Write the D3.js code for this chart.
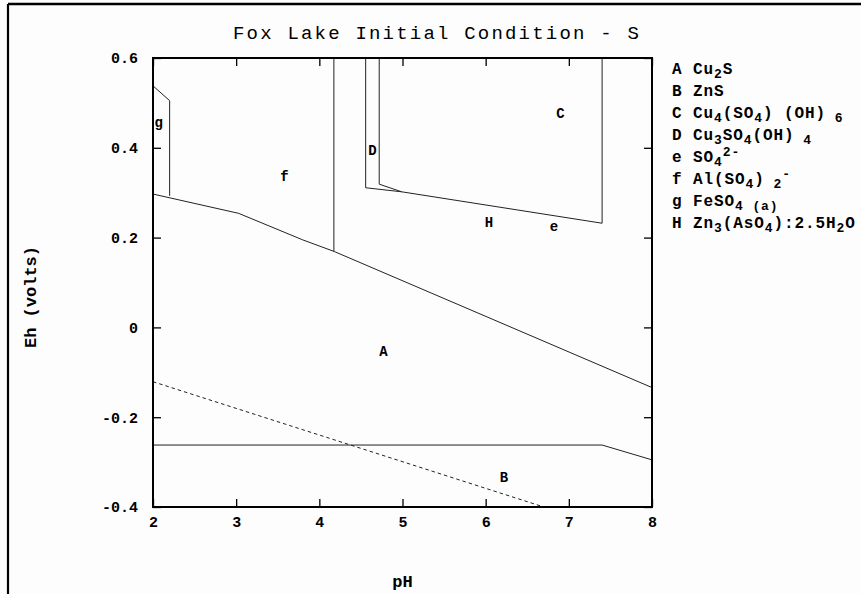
<!DOCTYPE html>
<html>
<head>
<meta charset="utf-8">
<script src="https://cdn.jsdelivr.net/npm/d3@7"></script>
<style>
  html, body { margin: 0; padding: 0; background: #fdfdfd; }
  svg { display: block; }
  text { font-family: "Liberation Mono", "Courier New", monospace; fill: #000; }
</style>
</head>
<body>
<svg id="chart" width="861" height="594"></svg>
<script>
// Axis domains and ticks
const phTicks = [2, 3, 4, 5, 6, 7, 8];
const ehTicks = [-0.4, -0.2, 0, 0.2, 0.4, 0.6];
const ehTickLabels = ["-0.4", "-0.2", "0", "0.2", "0.4", "0.6"];

// Stability-field boundaries, [pH, Eh] vertices
const gBoundary = [[2, 0.538], [2.2, 0.505], [2.2, 0.293]];
const upperBoundary = [[2, 0.297], [3.03, 0.254], [3.8, 0.195], [4.18, 0.169], [8, -0.134]];
const fVertical = [[4.175, 0.6], [4.175, 0.169]];
const dOuter = [[4.557, 0.6], [4.557, 0.311], [4.99, 0.302]];
const dInner = [[4.72, 0.6], [4.72, 0.319], [4.99, 0.302]];
const cBoundary = [[4.99, 0.302], [7.40, 0.232], [7.40, 0.6]];
const znsBoundary = [[2, -0.262], [7.40, -0.262], [8, -0.295]];
const waterLimit = [[2, -0.121], [6.70, -0.4]];

// Field labels
const fieldNames = ["A", "B", "C", "D", "e", "f", "g", "H"];
const fieldPH = [4.77, 6.22, 6.90, 4.64, 6.82, 3.58, 2.07, 6.04];
const fieldEh = [-0.055, -0.336, 0.475, 0.393, 0.223, 0.336, 0.455, 0.232];

// Legend: key letters and formula pieces ([text, "n" | "sub" | "sup"])
const legendKeys = ["A", "B", "C", "D", "e", "f", "g", "H"];
const legendFormulas = [
  [["Cu", "n"], ["2", "sub"], ["S", "n"]],
  [["ZnS", "n"]],
  [["Cu", "n"], ["4", "sub"], ["(SO", "n"], ["4", "sub"], [") (OH)", "n"], [" 6", "sub"]],
  [["Cu", "n"], ["3", "sub"], ["SO", "n"], ["4", "sub"], ["(OH)", "n"], [" 4", "sub"]],
  [["SO", "n"], ["4", "sub"], ["2-", "sup"]],
  [["Al(SO", "n"], ["4", "sub"], [")", "n"], [" 2", "sub"], ["-", "sup"]],
  [["FeSO", "n"], ["4 (a)", "sub"]],
  [["Zn", "n"], ["3", "sub"], ["(AsO", "n"], ["4", "sub"], ["):2.5H", "n"], ["2", "sub"], ["O", "n"]]
];

const svg = d3.select("#chart");

// Outer frame lines
svg.append("line").attr("x1", 8).attr("y1", 4).attr("x2", 861).attr("y2", 4)
  .attr("stroke", "#000").attr("stroke-width", 2.5);
svg.append("line").attr("x1", 8).attr("y1", 4).attr("x2", 8).attr("y2", 594)
  .attr("stroke", "#000").attr("stroke-width", 2.2);

const plot = { left: 153, right: 652, top: 58, bottom: 507 };
const x = d3.scaleLinear().domain([2, 8]).range([plot.left, plot.right]);
const y = d3.scaleLinear().domain([-0.4, 0.6]).range([plot.bottom, plot.top]);

const line = d3.line().x(d => x(d[0])).y(d => y(d[1]));

// Boundaries
const g = svg.append("g").attr("fill", "none").attr("stroke", "#222").attr("stroke-width", 1);
[gBoundary, upperBoundary, fVertical, dOuter, dInner, cBoundary, znsBoundary].forEach(b => {
  g.append("path").attr("d", line(b));
});
g.append("path").attr("d", line(waterLimit)).attr("stroke-dasharray", "3.5,3");

// Axes (ticks drawn inside on all sides)
const tickLen = 8;
const axisStyle = sel => {
  sel.select(".domain").remove();
  sel.selectAll(".tick line").attr("stroke", "#000").attr("stroke-width", 1.3);
};
const labelStyle = s => s.selectAll("text").attr("font-size", 15).attr("font-weight", "bold")
  .attr("font-family", "Liberation Mono, monospace");
svg.append("g").attr("transform", `translate(0,${plot.bottom})`)
  .call(d3.axisBottom(x).tickValues(phTicks).tickSize(-tickLen).tickPadding(9).tickFormat(d3.format("d")))
  .call(axisStyle)
  .call(labelStyle);
svg.append("g").attr("transform", `translate(0,${plot.top})`)
  .call(d3.axisTop(x).tickValues(phTicks).tickSize(-tickLen).tickFormat(""))
  .call(axisStyle);
svg.append("g").attr("transform", `translate(${plot.left},0)`)
  .call(d3.axisLeft(y).tickValues(ehTicks).tickSize(-tickLen).tickPadding(15)
    .tickFormat((d, i) => ehTickLabels[i]))
  .call(axisStyle)
  .call(labelStyle);
svg.append("g").attr("transform", `translate(${plot.right},0)`)
  .call(d3.axisRight(y).tickValues(ehTicks).tickSize(-tickLen).tickFormat(""))
  .call(axisStyle);

// Plot box
svg.append("rect").attr("x", plot.left).attr("y", plot.top)
  .attr("width", plot.right - plot.left).attr("height", plot.bottom - plot.top)
  .attr("fill", "none").attr("stroke", "#000").attr("stroke-width", 2);

// Field labels
svg.append("g").selectAll("text").data(fieldNames).join("text")
  .attr("x", (d, i) => x(fieldPH[i]))
  .attr("y", (d, i) => y(fieldEh[i]))
  .attr("text-anchor", "middle").attr("dominant-baseline", "central")
  .attr("font-size", 14).attr("font-weight", "bold")
  .text(d => d);

// Title and axis titles
svg.append("text").attr("x", 437).attr("y", 39).attr("text-anchor", "middle")
  .attr("font-size", 19).attr("letter-spacing", 2.2)
  .text("Fox Lake Initial Condition - S");
svg.append("text").attr("x", (plot.left + plot.right) / 2).attr("y", 587)
  .attr("text-anchor", "middle").attr("font-size", 17).attr("font-weight", "bold")
  .text("pH");
svg.append("text").attr("transform", "translate(36,297) rotate(-90)")
  .attr("text-anchor", "middle").attr("font-size", 17).attr("font-weight", "bold")
  .text("Eh (volts)");

// Legend
const legend = svg.append("g").attr("font-size", 16).attr("font-weight", "bold");
legendKeys.forEach((k, i) => {
  const yy = 74 + i * 22;
  legend.append("text").attr("x", 672).attr("y", yy).text(k);
  const t = legend.append("text").attr("x", 693).attr("y", yy).attr("letter-spacing", 0.9);
  let shift = 0;
  legendFormulas[i].forEach(([txt, mode]) => {
    const target = mode === "sub" ? 4 : mode === "sup" ? -6 : 0;
    t.append("tspan")
      .attr("dy", target - shift)
      .attr("font-size", mode === "n" ? 16 : 13)
      .text(txt);
    shift = target;
  });
});
</script>
</body>
</html>
